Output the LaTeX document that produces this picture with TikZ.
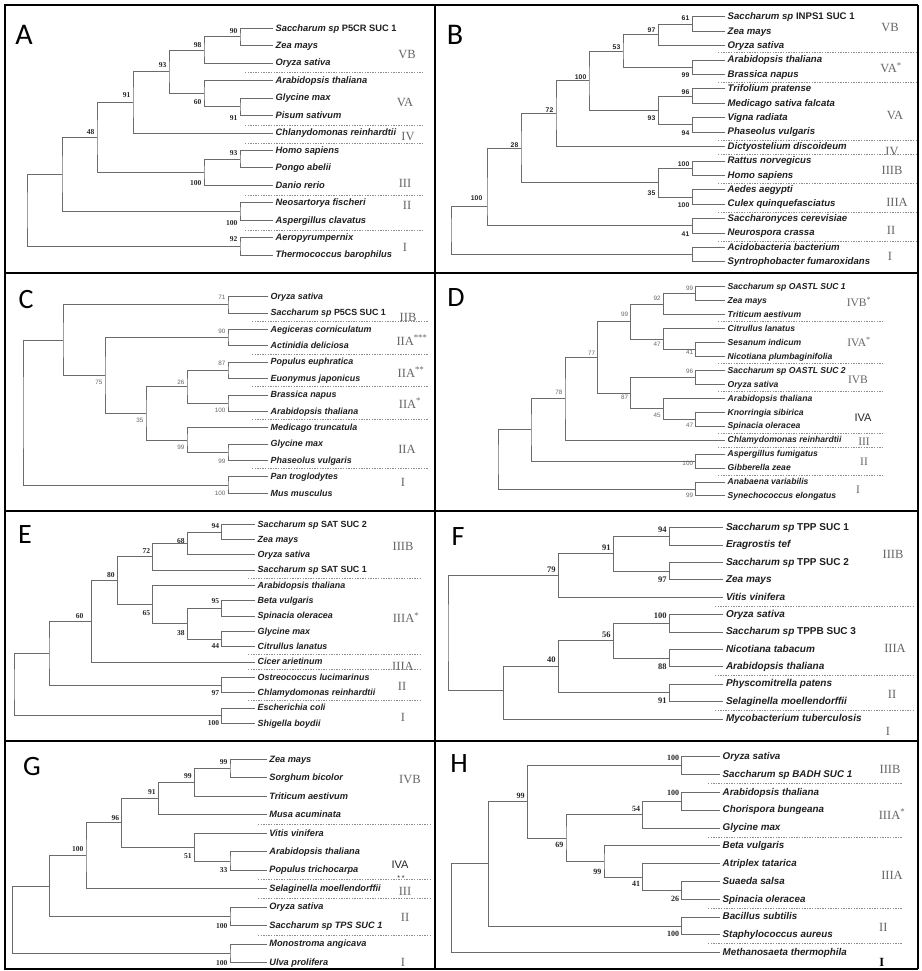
\documentclass[tikz,border=0pt]{standalone}
\usepackage{fontspec}
\setmainfont{Liberation Serif}
\newfontfamily\sansf{Liberation Sans}
\newfontfamily\calf{Carlito}
% bracket joining two children at a parent node
\newcommand\tjoin[3]{\draw[br] (#2) -| (#1) |- (#3);}
\begin{document}
\begin{tikzpicture}[x=1pt,y=-1pt,
  br/.style={draw=black!58, line width=1pt},
  frame/.style={draw=black, line width=2.8pt},
  sep/.style={draw=black!45, line width=0.7pt, dash pattern=on 1.3pt off 1.3pt},
  spc/.style={anchor=west, inner xsep=2.5pt, inner ysep=0pt, text height=1.6ex, text depth=0.4ex, text=black!88},
  spA/.style={spc, font=\sansf\bfseries\itshape\fontsize{9.3}{10}\selectfont},
  spB/.style={spc, font=\sansf\bfseries\itshape\fontsize{9.6}{10}\selectfont},
  spC/.style={spc, font=\sansf\bfseries\itshape\fontsize{8.9}{10}\selectfont},
  spD/.style={spc, font=\sansf\bfseries\itshape\fontsize{8.6}{10}\selectfont},
  spE/.style={spc, font=\sansf\bfseries\itshape\fontsize{8.9}{10}\selectfont},
  spF/.style={spc, font=\sansf\bfseries\itshape\fontsize{10}{11}\selectfont},
  spG/.style={spc, font=\sansf\bfseries\itshape\fontsize{9.2}{10}\selectfont},
  spH/.style={spc, font=\sansf\bfseries\itshape\fontsize{9.8}{10}\selectfont},
  bs/.style={anchor=east, inner sep=0.5pt, text=black!85},
  bsA/.style={bs, font=\bfseries\fontsize{7.5}{8}\selectfont},
  bsB/.style={bs, font=\sansf\bfseries\fontsize{6.8}{8}\selectfont},
  bsC/.style={bs, text=black!60, font=\sansf\fontsize{6.3}{7}\selectfont},
  bsF/.style={bs, font=\bfseries\fontsize{8.5}{9}\selectfont},
  bsH/.style={bs, font=\bfseries\fontsize{8}{9}\selectfont},
  grp/.style={inner sep=0pt, text=black!60, font=\fontsize{12.5}{13}\selectfont},
  grpd/.style={grp, font=\fontsize{11.5}{12}\selectfont},
  grps/.style={inner sep=0pt, text=black!85, font=\sansf\fontsize{11}{12}\selectfont},
  letter/.style={inner sep=0pt, font=\calf\fontsize{28}{28}\selectfont},
  bigletter/.style={inner sep=0pt, font=\calf\fontsize{30}{30}\selectfont},
]
\fill[white] (0,0) rectangle (921,971);
\useasboundingbox (0,0) rectangle (921,971);

% ================= A =================
\node[bigletter] (labA) at (24,35) {A};
\node[spA] (A1) at (273,28.3) {Saccharum sp {\upshape P5CR SUC 1}};
\node[spA] (A2) at (273,45.75) {Zea mays};
\node[spA] (A3) at (273,63.2) {Oryza sativa};
\node[spA] (A4) at (273,80.65) {Arabidopsis thaliana};
\node[spA] (A5) at (273,98.1) {Glycine max};
\node[spA] (A6) at (273,115.55) {Pisum sativum};
\node[spA] (A7) at (273,133) {Chlanydomonas reinhardtii};
\node[spA] (A8) at (273,150.45) {Homo sapiens};
\node[spA] (A9) at (273,167.9) {Pongo abelii};
\node[spA] (A10) at (273,185.35) {Danio rerio};
\node[spA] (A11) at (273,202.8) {Neosartorya fischeri};
\node[spA] (A12) at (273,220.25) {Aspergillus clavatus};
\node[spA] (A13) at (273,237.7) {Aeropyrumpernix};
\node[spA] (A14) at (273,255.15) {Thermococcus barophilus};
\coordinate (a90) at (240,37);
\coordinate (a98) at (204,50.1);
\coordinate (a91b) at (240,106.8);
\coordinate (a60) at (204,93.7);
\coordinate (a93) at (169,71.9);
\coordinate (a91) at (133,102.5);
\coordinate (a93c) at (240,159.2);
\coordinate (a100) at (204,172.3);
\coordinate (a48) at (97,137.4);
\coordinate (a100b) at (240,211.5);
\coordinate (aX) at (62,174.5);
\coordinate (a92) at (240,246.4);
\coordinate (aR) at (27,210);
\tjoin{a90}{A1.west}{A2.west}
\tjoin{a98}{a90}{A3.west}
\tjoin{a91b}{A5.west}{A6.west}
\tjoin{a60}{A4.west}{a91b}
\tjoin{a93}{a98}{a60}
\tjoin{a91}{a93}{A7.west}
\tjoin{a93c}{A8.west}{A9.west}
\tjoin{a100}{a93c}{A10.west}
\tjoin{a48}{a91}{a100}
\tjoin{a100b}{A11.west}{A12.west}
\tjoin{aX}{a48}{a100b}
\tjoin{a92}{A13.west}{A14.west}
\tjoin{aR}{aX}{a92}
\node[bsA] (a90v) at (238,30.7) {90};
\node[bsA] (a98v) at (202,45) {98};
\node[bsA] (a93v) at (167,65) {93};
\node[bsA] (a91v) at (131,95) {91};
\node[bsA] (a60v) at (202,102) {60};
\node[bsA] (a91bv) at (238,118) {91};
\node[bsA] (a48v) at (95,131.7) {48};
\node[bsA] (a93cv) at (238,153.3) {93};
\node[bsA] (a100v) at (202,183.3) {100};
\node[bsA] (a100bv) at (238,223) {100};
\node[bsA] (a92v) at (238,239.3) {92};
\node[grp] (gA1) at (407,55) {VB};
\node[grp] (gA2) at (405,102) {VA};
\node[grp] (gA3) at (408,137) {IV};
\node[grp] (gA4) at (405,183) {III};
\node[grp] (gA5) at (407,205) {II};
\node[grp] (gA6) at (405,247) {I};
\foreach \yy in {72.2,125.5,143,195.5,230.3} \draw[sep] (245,\yy) -- (422,\yy);

% ================= B =================
\node[bigletter] (labB) at (455,35) {B};
\node[spB] (B1) at (725,17) {Saccharum sp {\upshape INPS1 SUC 1}};
\node[spB] (B2) at (725,31.4) {Zea mays};
\node[spB] (B3) at (725,45.8) {Oryza sativa};
\node[spB] (B4) at (725,60.2) {Arabidopsis thaliana};
\node[spB] (B5) at (725,74.6) {Brassica napus};
\node[spB] (B6) at (725,89) {Trifolium pratense};
\node[spB] (B7) at (725,103.4) {Medicago sativa falcata};
\node[spB] (B8) at (725,117.8) {Vigna radiata};
\node[spB] (B9) at (725,132.2) {Phaseolus vulgaris};
\node[spB] (B10) at (725,146.6) {Dictyostelium discoideum};
\node[spB] (B11) at (725,161) {Rattus norvegicus};
\node[spB] (B12) at (725,175.4) {Homo sapiens};
\node[spB] (B13) at (725,189.8) {Aedes aegypti};
\node[spB] (B14) at (725,204.2) {Culex quinquefasciatus};
\node[spB] (B15) at (725,218.6) {Saccharonyces cerevisiae};
\node[spB] (B16) at (725,233) {Neurospora crassa};
\node[spB] (B17) at (725,247.4) {Acidobacteria bacterium};
\node[spB] (B18) at (725,261.8) {Syntrophobacter fumaroxidans};
\coordinate (b61) at (692,24.2);
\coordinate (b97) at (658,35);
\coordinate (b99) at (692,67.4);
\coordinate (b53) at (623,51.2);
\coordinate (b96) at (692,96.2);
\coordinate (b94) at (692,125);
\coordinate (b93) at (658,110.6);
\coordinate (b100) at (589,80.9);
\coordinate (b72) at (556,113.8);
\coordinate (b100c) at (692,168.2);
\coordinate (b100d) at (692,197);
\coordinate (b35) at (658,182.6);
\coordinate (b28) at (521,148.2);
\coordinate (b41) at (692,225.8);
\coordinate (bY) at (487,206);
\coordinate (b0) at (692,254.6);
\coordinate (bR) at (451,230);
\tjoin{b61}{B1.west}{B2.west}
\tjoin{b97}{b61}{B3.west}
\tjoin{b99}{B4.west}{B5.west}
\tjoin{b53}{b97}{b99}
\tjoin{b96}{B6.west}{B7.west}
\tjoin{b94}{B8.west}{B9.west}
\tjoin{b93}{b96}{b94}
\tjoin{b100}{b53}{b93}
\tjoin{b72}{b100}{B10.west}
\tjoin{b100c}{B11.west}{B12.west}
\tjoin{b100d}{B13.west}{B14.west}
\tjoin{b35}{b100c}{b100d}
\tjoin{b28}{b72}{b35}
\tjoin{b41}{B15.west}{B16.west}
\tjoin{bY}{b28}{b41}
\tjoin{b0}{B17.west}{B18.west}
\tjoin{bR}{bY}{b0}
\node[bsB] (b61v) at (690,18) {61};
\node[bsB] (b97v) at (656,30) {97};
\node[bsB] (b53v) at (621,47) {53};
\node[bsB] (b99v) at (690,75) {99};
\node[bsB] (b100v) at (587,77) {100};
\node[bsB] (b96v) at (690,92) {96};
\node[bsB] (b72v) at (554,110) {72};
\node[bsB] (b93v) at (656,118) {93};
\node[bsB] (b94v) at (690,133) {94};
\node[bsB] (b28v) at (519,145) {28};
\node[bsB] (b100cv) at (690,164) {100};
\node[bsB] (b35v) at (656,193) {35};
\node[bsB] (b100dv) at (690,205) {100};
\node[bsB] (bYv) at (483,198) {100};
\node[bsB] (b41v) at (690,234) {41};
\node[grp] (gB1) at (890,28) {VB};
\node[grp] (gB2) at (891,68) {VA\textsuperscript{*}};
\node[grp] (gB3) at (895,115) {VA};
\node[grp] (gB4) at (892,152) {IV};
\node[grp] (gB5) at (892,170) {IIIB};
\node[grp] (gB6) at (897,202) {IIIA};
\node[grp] (gB7) at (891,230) {II};
\node[grp] (gB8) at (890,256) {I};
\foreach \yy in {52,82.5,140,154.5,183.5,212,241} \draw[sep] (718,\yy) -- (916,\yy);

% ================= C =================
\node[letter] (labC) at (26,300) {C};
\node[spC] (C1) at (268,296.7) {Oryza sativa};
\node[spC] (C2) at (268,313.1) {Saccharum sp {\upshape P5CS SUC 1}};
\node[spC] (C3) at (268,329.5) {Aegiceras corniculatum};
\node[spC] (C4) at (268,345.8) {Actinidia deliciosa};
\node[spC] (C5) at (268,362.2) {Populus euphratica};
\node[spC] (C6) at (268,378.6) {Euonymus japonicus};
\node[spC] (C7) at (268,395) {Brassica napus};
\node[spC] (C8) at (268,411.4) {Arabidopsis thaliana};
\node[spC] (C9) at (268,427.7) {Medicago truncatula};
\node[spC] (C10) at (268,444.1) {Glycine max};
\node[spC] (C11) at (268,460.5) {Phaseolus vulgaris};
\node[spC] (C12) at (268,476.9) {Pan troglodytes};
\node[spC] (C13) at (268,493.3) {Mus musculus};
\coordinate (c71) at (228,304.9);
\coordinate (c90) at (228,337.7);
\coordinate (c87) at (228,370.4);
\coordinate (c100) at (228,403.2);
\coordinate (c26) at (187,386.8);
\coordinate (c99b) at (228,452.3);
\coordinate (c99) at (187,440);
\coordinate (c35) at (146,413.4);
\coordinate (c75) at (105,375.5);
\coordinate (cX) at (63,340.2);
\coordinate (c100b) at (228,485.1);
\coordinate (cR) at (23,412.6);
\tjoin{c71}{C1.west}{C2.west}
\tjoin{c90}{C3.west}{C4.west}
\tjoin{c87}{C5.west}{C6.west}
\tjoin{c100}{C7.west}{C8.west}
\tjoin{c26}{c87}{c100}
\tjoin{c99b}{C10.west}{C11.west}
\tjoin{c99}{C9.west}{c99b}
\tjoin{c35}{c26}{c99}
\tjoin{c75}{c90}{c35}
\tjoin{cX}{c71}{c75}
\tjoin{c100b}{C12.west}{C13.west}
\tjoin{cR}{cX}{c100b}
\node[bsC] (c71v) at (226,297) {71};
\node[bsC] (c90v) at (226,331) {90};
\node[bsC] (c87v) at (226,363) {87};
\node[bsC] (c26v) at (185,382) {26};
\node[bsC] (c100v) at (226,410) {100};
\node[bsC] (c75v) at (103,382) {75};
\node[bsC] (c35v) at (144,420) {35};
\node[bsC] (c99v) at (185,447) {99};
\node[bsC] (c99bv) at (226,461) {99};
\node[bsC] (c100bv) at (226,493) {100};
\node[grp] (gC1) at (408,317) {IIB};
\node[grp] (gC2) at (412,340) {IIA\textsuperscript{***}};
\node[grp] (gC3) at (411,372) {IIA\textsuperscript{**}};
\node[grp] (gC4) at (410,403) {IIA\textsuperscript{*}};
\node[grp] (gC5) at (407,449) {IIA};
\node[grp] (gC6) at (403,482) {I};
\foreach \yy in {321.3,354,386.8,419.5,468.7} \draw[sep] (252,\yy) -- (428,\yy);

% ================= D =================
\node[letter] (labD) at (456,298) {D};
\node[spD] (D1) at (725,286.7) {Saccharum sp OASTL SUC 1};
\node[spD] (D2) at (725,300.65) {Zea mays};
\node[spD] (D3) at (725,314.6) {Triticum aestivum};
\node[spD] (D4) at (725,328.55) {Citrullus lanatus};
\node[spD] (D5) at (725,342.5) {Sesanum indicum};
\node[spD] (D6) at (725,356.45) {Nicotiana plumbaginifolia};
\node[spD] (D7) at (725,370.4) {Saccharum sp OASTL SUC 2};
\node[spD] (D8) at (725,384.35) {Oryza sativa};
\node[spD] (D9) at (725,398.3) {Arabidopsis thaliana};
\node[spD] (D10) at (725,412.25) {Knorringia sibirica};
\node[spD] (D11) at (725,426.2) {Spinacia oleracea};
\node[spD] (D12) at (725,440.15) {Chlamydomonas reinhardtii};
\node[spD] (D13) at (725,454.1) {Aspergillus fumigatus};
\node[spD] (D14) at (725,468.05) {Gibberella zeae};
\node[spD] (D15) at (725,482) {Anabaena variabilis};
\node[spD] (D16) at (725,495.95) {Synechococcus elongatus};
\coordinate (d99) at (695.7,293.7);
\coordinate (d92) at (663.3,304.1);
\coordinate (d41) at (695.7,349.5);
\coordinate (d47) at (663.3,339);
\coordinate (d99b) at (630.7,321.6);
\coordinate (d96) at (695.7,377.4);
\coordinate (d47b) at (695.7,419.2);
\coordinate (d45) at (663.3,408.8);
\coordinate (d87) at (630.7,393.1);
\coordinate (d77) at (597.7,357.3);
\coordinate (d78) at (565,398.7);
\coordinate (d100) at (695.7,461.1);
\coordinate (dX) at (531,429.9);
\coordinate (d99c) at (695.7,489);
\coordinate (dR) at (498,459.5);
\tjoin{d99}{D1.west}{D2.west}
\tjoin{d92}{d99}{D3.west}
\tjoin{d41}{D5.west}{D6.west}
\tjoin{d47}{D4.west}{d41}
\tjoin{d99b}{d92}{d47}
\tjoin{d96}{D7.west}{D8.west}
\tjoin{d47b}{D10.west}{D11.west}
\tjoin{d45}{D9.west}{d47b}
\tjoin{d87}{d96}{d45}
\tjoin{d77}{d99b}{d87}
\tjoin{d78}{d77}{D12.west}
\tjoin{d100}{D13.west}{D14.west}
\tjoin{dX}{d78}{d100}
\tjoin{d99c}{D15.west}{D16.west}
\tjoin{dR}{dX}{d99c}
\node[bsC] (d99v) at (693.7,288) {99};
\node[bsC] (d92v) at (661.3,298) {92};
\node[bsC] (d99bv) at (628.7,314) {99};
\node[bsC] (d77v) at (595.7,353) {77};
\node[bsC] (d47v) at (661.3,344) {47};
\node[bsC] (d41v) at (693.7,352.7) {41};
\node[bsC] (d96v) at (693.7,371) {96};
\node[bsC] (d78v) at (563,392) {78};
\node[bsC] (d87v) at (628.7,397) {87};
\node[bsC] (d45v) at (661.3,415) {45};
\node[bsC] (d47bv) at (693.7,425) {47};
\node[bsC] (d100v) at (693.7,463) {100};
\node[bsC] (d99cv) at (693.7,495) {99};
\node[grpd] (gD1) at (859,302) {IVB\textsuperscript{*}};
\node[grpd] (gD2) at (859,342) {IVA\textsuperscript{*}};
\node[grpd] (gD3) at (858,380) {IVB};
\node[grps] (gD4) at (863,418) {IVA};
\node[grpd] (gD5) at (864,442) {III};
\node[grpd] (gD6) at (864,462) {II};
\node[grpd] (gD7) at (858,490) {I};
\foreach \yy in {321.6,363.4,391.3,433.2,447.1,475} \draw[sep] (718,\yy) -- (883,\yy);

% ================= E =================
\node[letter] (labE) at (25,535) {E};
\node[spE] (E1) at (255,524.3) {Saccharum sp {\upshape SAT SUC 2}};
\node[spE] (E2) at (255,539.6) {Zea mays};
\node[spE] (E3) at (255,554.9) {Oryza sativa};
\node[spE] (E4) at (255,570.2) {Saccharum sp {\upshape SAT SUC 1}};
\node[spE] (E5) at (255,585.5) {Arabidopsis thaliana};
\node[spE] (E6) at (255,600.9) {Beta vulgaris};
\node[spE] (E7) at (255,616.2) {Spinacia oleracea};
\node[spE] (E8) at (255,631.5) {Glycine max};
\node[spE] (E9) at (255,646.8) {Citrullus lanatus};
\node[spE] (E10) at (255,662.1) {Cicer arietinum};
\node[spE] (E11) at (255,677.4) {Ostreococcus lucimarinus};
\node[spE] (E12) at (255,692.7) {Chlamydomonas reinhardtii};
\node[spE] (E13) at (255,708) {Escherichia coli};
\node[spE] (E14) at (255,723.3) {Shigella boydii};
\coordinate (e94) at (221.7,532);
\coordinate (e68) at (187.3,543.4);
\coordinate (e72) at (152.7,556.8);
\coordinate (e95) at (221.7,608.5);
\coordinate (e44) at (221.7,639.2);
\coordinate (e38) at (187.3,623.8);
\coordinate (e65) at (152.7,604.7);
\coordinate (e80) at (117.3,580.7);
\coordinate (e60) at (91.7,621.4);
\coordinate (e97) at (221.7,685);
\coordinate (eX) at (49,653.2);
\coordinate (e100) at (221.7,715.7);
\coordinate (eR) at (14,684.5);
\tjoin{e94}{E1.west}{E2.west}
\tjoin{e68}{e94}{E3.west}
\tjoin{e72}{e68}{E4.west}
\tjoin{e95}{E6.west}{E7.west}
\tjoin{e44}{E8.west}{E9.west}
\tjoin{e38}{e95}{e44}
\tjoin{e65}{E5.west}{e38}
\tjoin{e80}{e72}{e65}
\tjoin{e60}{e80}{E10.west}
\tjoin{e97}{E11.west}{E12.west}
\tjoin{eX}{e60}{e97}
\tjoin{e100}{E13.west}{E14.west}
\tjoin{eR}{eX}{e100}
\node[bsA] (e94v) at (219.7,526) {94};
\node[bsA] (e68v) at (185.3,541) {68};
\node[bsA] (e72v) at (150.7,551) {72};
\node[bsA] (e80v) at (115.3,575) {80};
\node[bsA] (e60v) at (84,616) {60};
\node[bsA] (e65v) at (150.7,612.7) {65};
\node[bsA] (e95v) at (219.7,601) {95};
\node[bsA] (e38v) at (185.3,632.7) {38};
\node[bsA] (e44v) at (219.7,646) {44};
\node[bsA] (e97v) at (219.7,692.7) {97};
\node[bsA] (e100v) at (219.7,723) {100};
\node[grp] (gE1) at (403,546) {IIIB};
\node[grp] (gE2) at (406,617.7) {IIIA\textsuperscript{*}};
\node[grp] (gE3) at (403,666) {IIIA};
\node[grp] (gE4) at (402,686) {II};
\node[grp] (gE5) at (403,717) {I};
\foreach \yy in {577.9,654.5,669.8,700.4} \draw[sep] (248,\yy) -- (422,\yy);

% ================= F =================
\node[letter] (labF) at (458,537) {F};
\node[spF] (F1) at (723.3,527.7) {Saccharum sp {\upshape TPP SUC 1}};
\node[spF] (F2) at (723.3,545.1) {Eragrostis tef};
\node[spF] (F3) at (723.3,562.5) {Saccharum sp {\upshape TPP SUC 2}};
\node[spF] (F4) at (723.3,579.9) {Zea mays};
\node[spF] (F5) at (723.3,597.3) {Vitis vinifera};
\node[spF] (F6) at (723.3,614.7) {Oryza sativa};
\node[spF] (F7) at (723.3,632) {Saccharum sp {\upshape TPPB SUC 3}};
\node[spF] (F8) at (723.3,649.4) {Nicotiana tabacum};
\node[spF] (F9) at (723.3,666.8) {Arabidopsis thaliana};
\node[spF] (F10) at (723.3,684.2) {Physcomitrella patens};
\node[spF] (F11) at (723.3,701.6) {Selaginella moellendorffii};
\node[spF] (F12) at (723.3,719) {Mycobacterium tuberculosis};
\coordinate (f94) at (669.3,536.4);
\coordinate (f97) at (669.3,571.2);
\coordinate (f91) at (613.3,553.8);
\coordinate (f79) at (558.3,575.6);
\coordinate (f100) at (669.3,623.4);
\coordinate (f88) at (669.3,658.1);
\coordinate (f56) at (613.3,640.8);
\coordinate (f91b) at (669.3,692.9);
\coordinate (f40) at (558.3,666.8);
\coordinate (fX) at (503.3,690);
\coordinate (fR) at (448,632.8);
\tjoin{f94}{F1.west}{F2.west}
\tjoin{f97}{F3.west}{F4.west}
\tjoin{f91}{f94}{f97}
\tjoin{f79}{f91}{F5.west}
\tjoin{f100}{F6.west}{F7.west}
\tjoin{f88}{F8.west}{F9.west}
\tjoin{f56}{f100}{f88}
\tjoin{f91b}{F10.west}{F11.west}
\tjoin{f40}{f56}{f91b}
\tjoin{fX}{f40}{F12.west}
\tjoin{fR}{f79}{fX}
\node[bsF] (f94v) at (667.3,529.3) {94};
\node[bsF] (f91v) at (611.3,547.7) {91};
\node[bsF] (f79v) at (556.3,569.3) {79};
\node[bsF] (f97v) at (667.3,579.3) {97};
\node[bsF] (f100v) at (667.3,616) {100};
\node[bsF] (f56v) at (611.3,635) {56};
\node[bsF] (f40v) at (556.3,660) {40};
\node[bsF] (f88v) at (667.3,666.7) {88};
\node[bsF] (f91bv) at (667.3,701) {91};
\node[grp] (gF1) at (893,554.3) {IIIB};
\node[grp] (gF2) at (895,648.3) {IIIA};
\node[grp] (gF3) at (892,694.3) {II};
\node[grp] (gF4) at (888,731) {I};
\foreach \yy in {606,675.5,710.3} \draw[sep] (715,\yy) -- (913,\yy);

% ================= G =================
\node[letter] (labG) at (32,767) {G};
\node[spG] (G1) at (266.7,759.3) {Zea mays};
\node[spG] (G2) at (266.7,777.8) {Sorghum bicolor};
\node[spG] (G3) at (266.7,796.3) {Triticum aestivum};
\node[spG] (G4) at (266.7,814.8) {Musa acuminata};
\node[spG] (G5) at (266.7,833.3) {Vitis vinifera};
\node[spG] (G6) at (266.7,851.8) {Arabidopsis thaliana};
\node[spG] (G7) at (266.7,870.2) {Populus trichocarpa};
\node[spG] (G8) at (266.7,888.7) {Selaginella moellendorffii};
\node[spG] (G9) at (266.7,907.2) {Oryza sativa};
\node[spG] (G10) at (266.7,925.7) {Saccharum sp TPS SUC 1};
\node[spG] (G11) at (266.7,944.2) {Monostroma angicava};
\node[spG] (G12) at (266.7,962.7) {Ulva prolifera};
\coordinate (g99) at (230,768.5);
\coordinate (g99b) at (194.3,782.4);
\coordinate (g91) at (158.3,798.6);
\coordinate (g33) at (230,861);
\coordinate (g51) at (194.3,847.2);
\coordinate (g96) at (121.7,822.9);
\coordinate (g100) at (86,855.8);
\coordinate (g100b) at (230,916.5);
\coordinate (gX) at (49.3,886.2);
\coordinate (g100c) at (230,953.5);
\coordinate (gR) at (12.7,919.8);
\tjoin{g99}{G1.west}{G2.west}
\tjoin{g99b}{g99}{G3.west}
\tjoin{g91}{g99b}{G4.west}
\tjoin{g33}{G6.west}{G7.west}
\tjoin{g51}{G5.west}{g33}
\tjoin{g96}{g91}{g51}
\tjoin{g100}{g96}{G8.west}
\tjoin{g100b}{G9.west}{G10.west}
\tjoin{gX}{g100}{g100b}
\tjoin{g100c}{G11.west}{G12.west}
\tjoin{gR}{gX}{g100c}
\node[bsA] (g99v) at (228,762) {99};
\node[bsA] (g99bv) at (192.3,776) {99};
\node[bsA] (g91v) at (156.3,792) {91};
\node[bsA] (g96v) at (119.7,817.7) {96};
\node[bsA] (g100v) at (84,849.3) {100};
\node[bsA] (g51v) at (192.3,856) {51};
\node[bsA] (g33v) at (228,870) {33};
\node[bsA] (g100bv) at (228,926) {100};
\node[bsA] (g100cv) at (228,963) {100};
\node[grp] (gG1) at (410,779.3) {IVB};
\node[grps] (gG2) at (400,864.3) {IVA};
\node[grps, font=\sansf\fontsize{7}{7}\selectfont] (gG2s) at (401,878) {* *};
\node[grp] (gG3) at (405,891) {III};
\node[grp] (gG4) at (405,917.7) {II};
\node[grp] (gG5) at (403,962.7) {I};
\foreach \yy in {824,879.5,898,935} \draw[sep] (258,\yy) -- (430,\yy);

% ================= H =================
\node[letter] (labH) at (459,764) {H};
\node[spH] (H1) at (720,756.7) {Oryza sativa};
\node[spH] (H2) at (720,774.5) {Saccharum sp BADH SUC 1};
\node[spH] (H3) at (720,792.3) {Arabidopsis thaliana};
\node[spH] (H4) at (720,810.2) {Chorispora bungeana};
\node[spH] (H5) at (720,828) {Glycine max};
\node[spH] (H6) at (720,845.8) {Beta vulgaris};
\node[spH] (H7) at (720,863.6) {Atriplex tatarica};
\node[spH] (H8) at (720,881.4) {Suaeda salsa};
\node[spH] (H9) at (720,899.3) {Spinacia oleracea};
\node[spH] (H10) at (720,917.1) {Bacillus subtilis};
\node[spH] (H11) at (720,934.9) {Staphylococcus aureus};
\node[spH] (H12) at (720,952.7) {Methanosaeta thermophila};
\coordinate (h100) at (681.7,765.6);
\coordinate (h100b) at (681.7,801.2);
\coordinate (h54) at (642.7,814.6);
\coordinate (h26) at (681.7,890.4);
\coordinate (h41) at (642.7,877);
\coordinate (h99) at (604,861.4);
\coordinate (h69) at (566,838);
\coordinate (h99c) at (527.3,801.8);
\coordinate (h100c) at (681.7,926);
\coordinate (hX) at (488.3,863.9);
\coordinate (hR) at (451.7,908.3);
\tjoin{h100}{H1.west}{H2.west}
\tjoin{h100b}{H3.west}{H4.west}
\tjoin{h54}{h100b}{H5.west}
\tjoin{h26}{H8.west}{H9.west}
\tjoin{h41}{H7.west}{h26}
\tjoin{h99}{H6.west}{h41}
\tjoin{h69}{h54}{h99}
\tjoin{h99c}{h100}{h69}
\tjoin{h100c}{H10.west}{H11.west}
\tjoin{hX}{h99c}{h100c}
\tjoin{hR}{hX}{H12.west}
\node[bsH] (h100v) at (679.7,757.7) {100};
\node[bsH] (h100bv) at (679.7,793.3) {100};
\node[bsH] (h54v) at (640.7,808.7) {54};
\node[bsH] (h99cv) at (525.3,796) {99};
\node[bsH] (h69v) at (564,845.3) {69};
\node[bsH] (h99v) at (602,872) {99};
\node[bsH] (h41v) at (640.7,884.3) {41};
\node[bsH] (h26v) at (679.7,898.7) {26};
\node[bsH] (h100cv) at (679.7,934.3) {100};
\node[grp] (gH1) at (890,769.3) {IIIB};
\node[grp] (gH2) at (892,814.3) {IIIA\textsuperscript{*}};
\node[grp] (gH3) at (892,875.3) {IIIA};
\node[grp] (gH4) at (883.3,927.7) {II};
\node[grp, text=black, font=\bfseries\fontsize{12.5}{13}\selectfont] (gH5) at (881.7,962.7) {I};
\foreach \yy in {783.4,836.9,908.2,943.8} \draw[sep] (708,\yy) -- (902,\yy);

% ================= panel frame =================
\draw[frame] (918,5) -- (5,5) -- (5,969) -- (918,969);
\draw[draw=black, line width=1.5pt] (918,5) -- (918,969);
\draw[frame] (435,5) -- (435,969);
\draw[frame] (5,273) -- (918,273);
\draw[frame] (5,511) -- (918,511);
\draw[frame] (5,741) -- (918,741);
\end{tikzpicture}
\end{document}
